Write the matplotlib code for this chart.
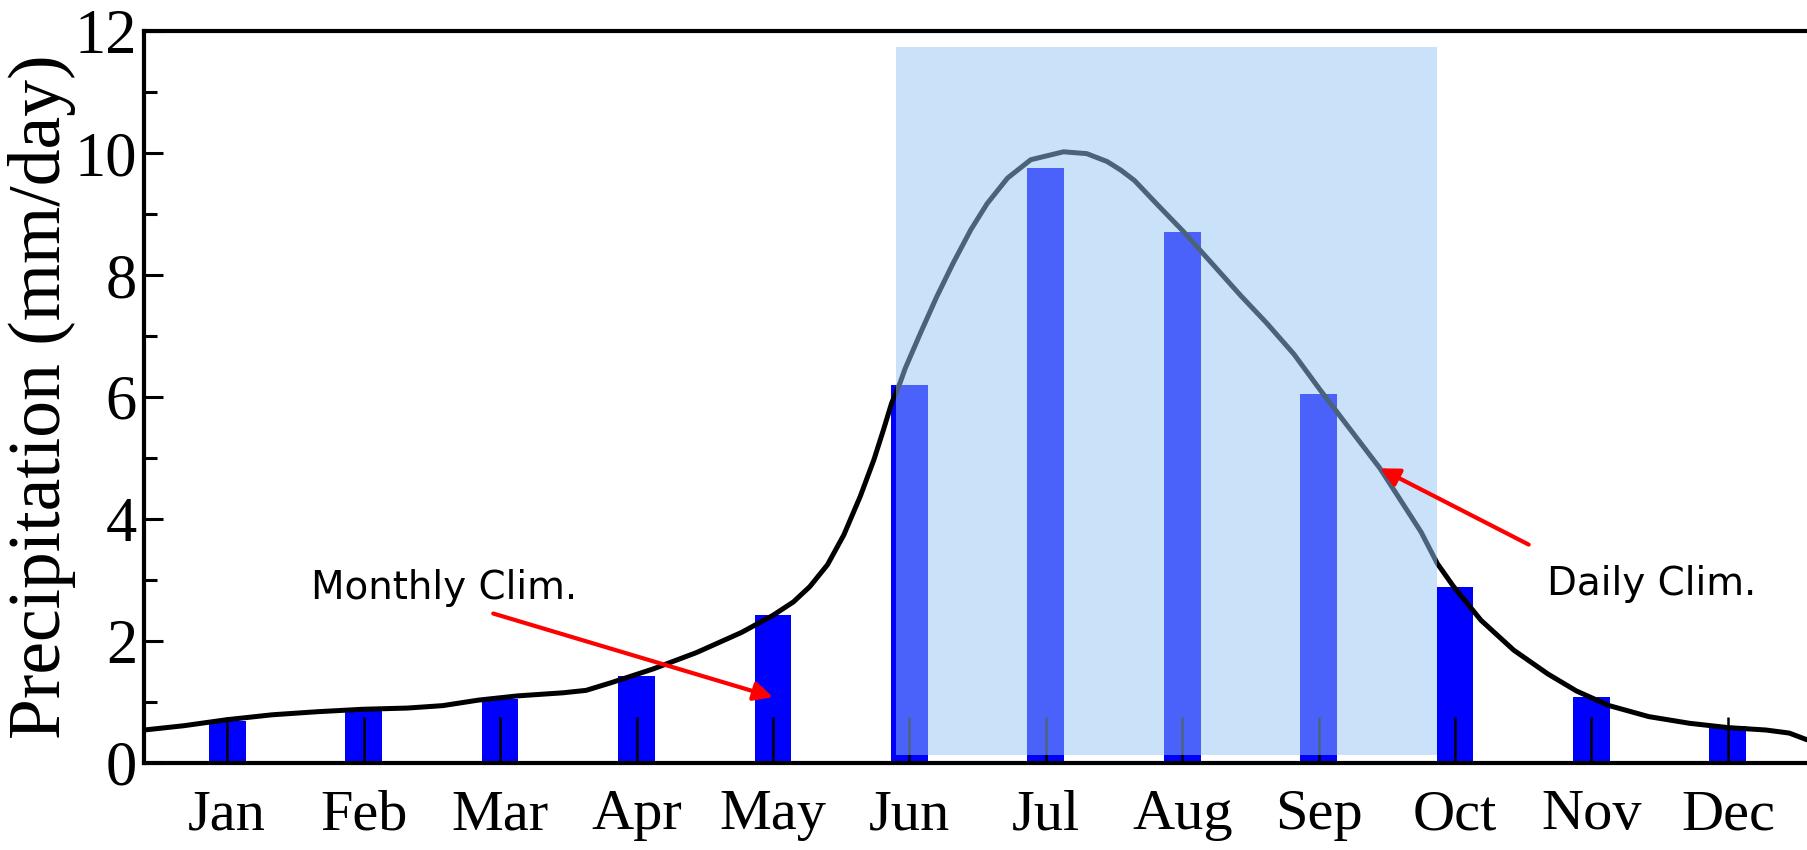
import matplotlib
matplotlib.use("Agg")
import matplotlib.pyplot as plt
from matplotlib.patches import Rectangle
from matplotlib.ticker import MultipleLocator

# monthly climatology (bars)
months = ['Jan', 'Feb', 'Mar', 'Apr', 'May', 'Jun',
          'Jul', 'Aug', 'Sep', 'Oct', 'Nov', 'Dec']
monthly = [0.69, 0.89, 1.05, 1.42, 2.42, 6.20, 9.75, 8.70, 6.05, 2.88, 1.08, 0.60]

# daily climatology (curve), x in month units
day_x = [0.39, 0.68, 1.00, 1.33, 1.66, 1.99, 2.32, 2.58, 2.84, 3.13, 3.46, 3.63,
         3.82, 4.12, 4.44, 4.77, 5.00, 5.15, 5.27, 5.40, 5.52, 5.64, 5.74, 5.81,
         5.87, 5.93, 5.97, 6.08, 6.20, 6.32, 6.45, 6.57, 6.72, 6.89, 7.13, 7.30,
         7.45, 7.55, 7.65, 7.82, 8.01, 8.23, 8.43, 8.62, 8.82, 9.01, 9.18, 9.45,
         9.60, 9.75, 9.87, 9.99, 10.19, 10.43, 10.68, 10.89, 11.13, 11.42, 11.72,
         12.00, 12.28, 12.45, 12.58]
day_y = [0.54, 0.61, 0.71, 0.79, 0.84, 0.88, 0.90, 0.94, 1.03, 1.10, 1.15, 1.19,
         1.32, 1.54, 1.81, 2.14, 2.42, 2.64, 2.89, 3.25, 3.74, 4.37, 4.97, 5.46,
         5.90, 6.22, 6.47, 7.04, 7.64, 8.19, 8.74, 9.17, 9.59, 9.89, 10.02, 9.99,
         9.86, 9.72, 9.55, 9.15, 8.71, 8.16, 7.66, 7.21, 6.70, 6.12, 5.62, 4.83,
         4.31, 3.79, 3.27, 2.89, 2.34, 1.85, 1.46, 1.18, 0.94, 0.76, 0.65,
         0.58, 0.54, 0.49, 0.38]

# summer monsoon window
season = (5.90, 9.87)

serif = 'Liberation Serif'

fig = plt.figure(figsize=(18.07, 8.5), dpi=100)
ax = fig.add_axes([0.0797, 0.1024, 0.9203, 0.8611])

x = list(range(1, 13))
ax.bar(x, monthly, width=0.27, color='#0000ff', zorder=1)
ax.plot(day_x, day_y, color='black', lw=3.6, zorder=2,
        solid_joinstyle='round', solid_capstyle='round')

ax.add_patch(Rectangle((season[0], 0.13), season[1] - season[0], 11.61,
                       facecolor='#97c5f7', edgecolor='none', alpha=0.5, zorder=3))

ax.set_xlim(0.39, 12.58)
ax.set_ylim(0, 12)
ax.set_xticks(x)
ax.set_xticklabels(months, fontfamily=serif, fontsize=42)
ax.yaxis.set_major_locator(MultipleLocator(2))
ax.yaxis.set_minor_locator(MultipleLocator(1))
ax.tick_params(axis='y', which='major', direction='in', length=14, width=2.2,
               labelsize=45, pad=5)
ax.tick_params(axis='y', which='minor', direction='in', length=9, width=2.2)
ax.tick_params(axis='x', which='major', direction='in', length=33, width=1.8,
               labelsize=42, pad=19, top=False)
for lab in ax.get_yticklabels():
    lab.set_fontfamily(serif)
ax.set_ylabel('Precipitation (mm/day)', fontfamily=serif, fontsize=53)
ax.yaxis.set_label_coords(-0.041, 0.5)

for side in ['left', 'top', 'bottom']:
    ax.spines[side].set_linewidth(3)
ax.spines['right'].set_visible(False)

arrow = dict(arrowstyle='-|>', color='red', lw=3, mutation_scale=28,
             shrinkA=0, shrinkB=0)
ax.annotate('', xy=(5.0, 1.08), xytext=(2.95, 2.45), arrowprops=arrow, zorder=4)
ax.annotate('', xy=(9.45, 4.83), xytext=(10.54, 3.58), arrowprops=arrow, zorder=4)
ax.text(2.59, 2.87, 'Monthly Clim.', fontsize=28, ha='center', va='center', zorder=4)
ax.text(11.44, 2.93, 'Daily Clim.', fontsize=28, ha='center', va='center', zorder=4)

fig.savefig('out.png', dpi=100)
